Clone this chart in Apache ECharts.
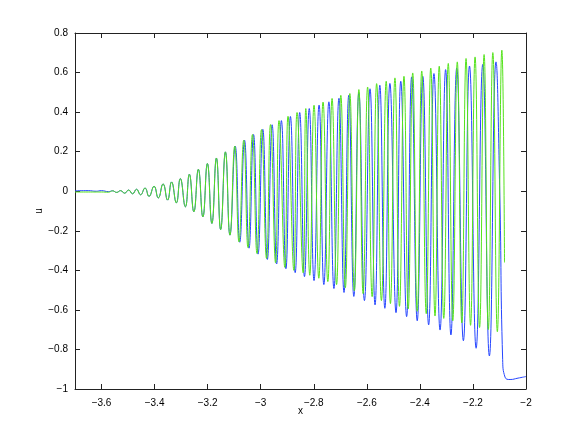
<!DOCTYPE html>
<html>
<head>
<meta charset="utf-8">
<script src="https://cdn.jsdelivr.net/npm/echarts@6/dist/echarts.min.js"></script>
<style>
html, body { margin: 0; padding: 0; background: #fff; }
#chart { width: 581px; height: 437px; }
</style>
</head>
<body>
<div id="chart"></div>
<script>
'use strict';
// flat start (x, blue u, green u)
var leadX = [-3.7, -3.65, -3.62, -3.6, -3.574];
var leadBlue = [0.002, 0.003, 0.0, 0.003, -0.002];
var leadGreen = [-0.004, -0.004, -0.004, -0.004, -0.005];

// growing part where both curves coincide (peaks and troughs)
var rampX = [-3.558, -3.543, -3.528, -3.513, -3.498, -3.483, -3.468, -3.453, -3.436, -3.421,
  -3.402, -3.386, -3.368, -3.351, -3.336, -3.318, -3.303, -3.284, -3.269, -3.252,
  -3.235, -3.218, -3.201, -3.184, -3.167, -3.151, -3.133, -3.116];
var rampU = [0.002, -0.006, 0.003, -0.010, 0.006, -0.013, 0.010, -0.018, 0.016, -0.026,
  0.025, -0.034, 0.037, -0.045, 0.047, -0.059, 0.064, -0.079, 0.086, -0.104,
  0.111, -0.130, 0.140, -0.163, 0.168, -0.194, 0.199, -0.222];

// blue tail
var blueX = [-3.096, -3.079, -3.061, -3.044, -3.027, -3.010, -2.992, -2.975, -2.957, -2.940,
  -2.922, -2.905, -2.888, -2.870, -2.853, -2.835, -2.817, -2.799, -2.780, -2.762,
  -2.743, -2.724, -2.705, -2.686, -2.668, -2.649, -2.630, -2.609, -2.588, -2.569,
  -2.551, -2.532, -2.513, -2.490, -2.472, -2.450, -2.431, -2.410, -2.389, -2.367,
  -2.347, -2.324, -2.303, -2.283, -2.261, -2.236, -2.213, -2.188, -2.163, -2.138,
  -2.113, -2.099, -2.088, -2.079, -2.060, -2.030, -2.0];
var blueU = [0.228, -0.258, 0.258, -0.288, 0.287, -0.318, 0.313, -0.345, 0.336, -0.368,
  0.357, -0.392, 0.378, -0.412, 0.398, -0.432, 0.418, -0.452, 0.436, -0.472,
  0.452, -0.492, 0.470, -0.512, 0.485, -0.532, 0.498, -0.553, 0.518, -0.575,
  0.536, -0.592, 0.545, -0.614, 0.556, -0.634, 0.578, -0.655, 0.581, -0.676,
  0.595, -0.702, 0.615, -0.727, 0.623, -0.756, 0.633, -0.794, 0.641, -0.833,
  0.654, 0.0, -0.85, -0.94, -0.952, -0.945, -0.937];

// green tail
var greenX = [-3.098, -3.082, -3.064, -3.048, -3.031, -3.014, -2.997, -2.978, -2.963, -2.944,
  -2.931, -2.909, -2.897, -2.875, -2.863, -2.840, -2.830, -2.815, -2.799, -2.781,
  -2.765, -2.747, -2.731, -2.714, -2.698, -2.681, -2.664, -2.647, -2.630, -2.614,
  -2.597, -2.580, -2.563, -2.545, -2.527, -2.511, -2.494, -2.477, -2.460, -2.444,
  -2.427, -2.410, -2.393, -2.376, -2.359, -2.343, -2.327, -2.310, -2.293, -2.276,
  -2.259, -2.242, -2.226, -2.209, -2.192, -2.175, -2.158, -2.142, -2.125, -2.108,
  -2.091, -2.081];
var greenU = [0.228, -0.256, 0.258, -0.285, 0.287, -0.315, 0.312, -0.340, 0.337, -0.362,
  0.357, -0.385, 0.379, -0.400, 0.398, -0.413, 0.418, -0.425, 0.435, -0.440,
  0.451, -0.457, 0.469, -0.472, 0.485, -0.488, 0.494, -0.503, 0.514, -0.518,
  0.527, -0.533, 0.544, -0.553, 0.556, -0.568, 0.573, -0.582, 0.581, -0.595,
  0.598, -0.607, 0.608, -0.619, 0.623, -0.631, 0.632, -0.643, 0.646, -0.655,
  0.654, -0.666, 0.671, -0.678, 0.679, -0.689, 0.691, -0.699, 0.701, -0.710,
  0.713, -0.36];

var xTicks = [-3.6, -3.4, -3.2, -3, -2.8, -2.6, -2.4, -2.2, -2];
var yTicks = [-1, -0.8, -0.6, -0.4, -0.2, 0, 0.2, 0.4, 0.6, 0.8];

function pairs(xs, us) {
  return xs.map(function (x, i) { return [x, us[i]]; });
}
function fmt(v) {
  return String(Math.round(v * 10) / 10).replace('-', '\u2212');
}

var blueData = pairs(leadX, leadBlue).concat(pairs(rampX, rampU), pairs(blueX, blueU));
var greenData = pairs(leadX, leadGreen).concat(pairs(rampX, rampU), pairs(greenX, greenU));

var axisColor = '#222';
var font = { color: '#000', fontSize: 10, fontFamily: 'Liberation Sans, Arial, sans-serif' };

function xAx(pos, labels) {
  return {
    type: 'value', position: pos, min: -3.7, max: -2,
    name: labels ? 'x' : '', nameLocation: 'middle', nameGap: 17, nameMoveOverlap: false,
    nameTextStyle: font,
    axisLine: { show: true, onZero: false, lineStyle: { color: axisColor, width: 1 } },
    axisTick: { show: true, inside: true, length: 5, customValues: xTicks, lineStyle: { color: axisColor } },
    axisLabel: { show: labels, margin: 9, customValues: xTicks, formatter: fmt, color: '#000', fontSize: 10, fontFamily: font.fontFamily },
    splitLine: { show: false }
  };
}
function yAx(pos, labels) {
  return {
    type: 'value', position: pos, min: -1, max: 0.8,
    name: labels ? 'u' : '', nameLocation: 'middle', nameGap: 31, nameMoveOverlap: false,
    nameTextStyle: font,
    axisLine: { show: true, onZero: false, lineStyle: { color: axisColor, width: 1 } },
    axisTick: { show: true, inside: true, length: 5, customValues: yTicks, lineStyle: { color: axisColor } },
    axisLabel: { show: labels, margin: 7, customValues: yTicks, formatter: fmt, color: '#000', fontSize: 10, fontFamily: font.fontFamily },
    splitLine: { show: false }
  };
}

var chart = echarts.init(document.getElementById('chart'), null, { renderer: 'canvas' });
chart.setOption({
  animation: false,
  backgroundColor: '#fff',
  grid: { left: 75, right: 55, top: 33, bottom: 48 },
  xAxis: [xAx('bottom', true), xAx('top', false)],
  yAxis: [yAx('left', true), yAx('right', false)],
  series: [{
    name: 'blue', type: 'line', data: blueData, smooth: 0.5, showSymbol: false,
    lineStyle: { color: '#2646ff', width: 1 }
  }, {
    name: 'green', type: 'line', data: greenData, smooth: 0.5, showSymbol: false,
    lineStyle: { color: '#55e31c', width: 1 }
  }]
});
</script>
</body>
</html>
